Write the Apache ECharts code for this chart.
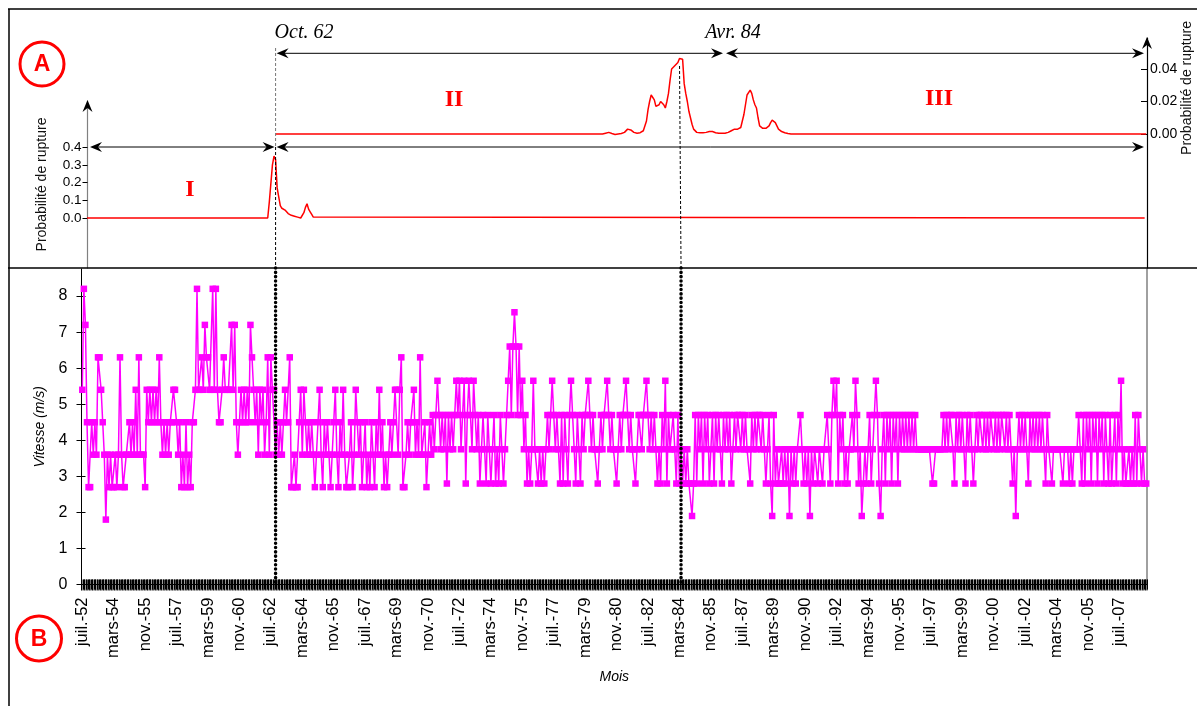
<!DOCTYPE html>
<html><head><meta charset="utf-8">
<script src="https://cdn.jsdelivr.net/npm/echarts@6/dist/echarts.min.js"></script>
<style>html,body{margin:0;padding:0;background:#fff}#c{width:1197px;height:706px}</style>
</head><body><div id="c"></div><script>
// ---------- DATA ----------
const monthNamesFr = ['janv.','févr.','mars','avr.','mai','juin','juil.','août','sept.','oct.','nov.','déc.'];
const firstMonth = [1952, 7], lastMonth = [2008, 12];
const categories = [];
for (let y = firstMonth[0], m = firstMonth[1]; y < lastMonth[0] || (y === lastMonth[0] && m <= lastMonth[1]);) {
  categories.push(y + '-' + String(m).padStart(2, '0'));
  m++; if (m > 12) { m = 1; y++; }
}
const speedTicks = [0, 1, 2, 3, 4, 5, 6, 7, 8];
const probITicks = [0, 0.1, 0.2, 0.3, 0.4];
const probIITicks = [0, 0.02, 0.04];

// Vitesse mensuelle (m/s)  juil. 1952 - sept. 1962
const vitesse1952 = [5.4, 8.2, 7.2, 4.5, 2.7, 2.7, 4.5, 3.6, 4.5, 3.6,
 6.3, 6.3, 5.4, 4.5, 3.6, 1.8, 3.6, 2.7, 3.6, 2.7,
 2.7, 3.6, 2.7, 3.6, 6.3, 3.6, 2.7, 2.7, 3.6, 3.6,
 4.5, 3.6, 4.5, 3.6, 5.4, 3.6, 6.3, 3.6, 3.6, 3.6,
 2.7, 5.4, 4.5, 5.4, 4.5, 5.4, 4.5, 5.4, 4.5, 6.3,
 4.5, 3.6, 4.5, 3.6, 4.5, 3.6, 4.5, 4.5, 5.4, 5.4,
 4.5, 3.6, 4.5, 2.7, 3.6, 2.7, 4.5, 2.7, 3.6, 2.7,
 4.5, 4.5, 5.4, 8.2, 5.4, 5.4, 6.3, 5.4, 7.2, 6.3,
 6.3, 5.4, 5.4, 8.2, 5.4, 8.2, 5.4, 4.5, 4.5, 5.4,
 6.3, 5.4, 5.4, 5.4, 5.4, 7.2, 5.4, 7.2, 4.5, 3.6,
 4.5, 5.4, 4.5, 5.4, 4.5, 5.4, 4.5, 7.2, 6.3, 5.4,
 4.5, 5.4, 3.6, 5.4, 4.5, 5.4, 3.6, 4.5, 6.3, 3.6,
 6.3, 5.4, 5.4];
// oct. 1962 - juin 1971
const vitesse1962 = [3.6, 4.5, 3.6, 4.5, 3.6, 4.5, 5.4,
 4.5, 4.5, 6.3, 2.7, 2.7, 3.6, 2.7, 2.7, 4.5, 5.4,
 3.6, 5.4, 4.5, 3.6, 4.5, 3.6, 4.5, 3.6, 2.7, 3.6,
 4.5, 5.4, 3.6, 2.7, 4.5, 3.6, 4.5, 3.6, 2.7, 3.6,
 4.5, 5.4, 3.6, 2.7, 4.5, 3.6, 5.4, 3.6, 2.7, 2.7,
 3.6, 4.5, 2.7, 3.6, 5.4, 4.5, 3.6, 4.5, 2.7, 3.6,
 4.5, 2.7, 3.6, 2.7, 4.5, 3.6, 2.7, 4.5, 3.6, 5.4,
 3.6, 4.5, 2.7, 3.6, 2.7, 3.6, 4.5, 3.6, 4.5, 5.4,
 5.4, 3.6, 5.4, 6.3, 2.7, 2.7, 3.6, 4.5, 3.6, 4.5,
 4.5, 5.4, 3.6, 4.5, 3.6, 6.3, 3.6, 3.6, 4.5, 2.7,
 3.6, 4.5, 3.6];
// juil. 1971 - avr. 1984
const vitesse1971 = [4.7, 3.75, 4.7, 5.65, 4.7, 3.75, 4.7,
 3.75, 4.7, 2.8, 4.7, 3.75, 4.7, 3.75, 4.7, 5.65, 4.7,
 5.65, 3.75, 4.7, 5.65, 2.8, 4.7, 5.65, 4.7, 3.75, 5.65,
 4.7, 3.75, 4.7, 2.8, 3.75, 4.7, 3.75, 2.8, 4.7, 3.75,
 2.8, 3.75, 4.7, 2.8, 3.75, 2.8, 4.7, 3.75, 2.8, 3.75,
 4.7, 5.65, 6.6, 4.7, 6.6, 7.55, 6.6, 4.7, 6.6, 4.7,
 5.65, 3.75, 4.7, 2.8, 3.75, 2.8, 3.75, 5.65, 3.75, 3.75,
 2.8, 3.75, 2.8, 3.75, 2.8, 3.75, 4.7, 3.75, 4.7, 5.65,
 4.7, 3.75, 4.7, 3.75, 2.8, 4.7, 2.8, 4.7, 3.75, 2.8,
 4.7, 5.65, 4.7, 3.75, 2.8, 4.7, 3.75, 2.8, 4.7, 3.75,
 4.7, 4.7, 5.65, 4.7, 3.75, 4.7, 3.75, 3.75, 2.8, 3.75,
 4.7, 3.75, 4.7, 4.7, 5.65, 4.7, 3.75, 4.7, 3.75, 3.75,
 2.8, 3.75, 4.7, 3.75, 4.7, 4.7, 5.65, 4.7, 3.75, 4.7,
 3.75, 3.75, 2.8, 3.75, 4.7, 4.7, 3.75, 4.7, 4.7, 5.65,
 4.7, 3.75, 4.7, 3.75, 4.7, 3.75, 2.8, 3.75, 2.8, 4.7,
 3.75, 5.65, 2.8, 4.7, 3.75, 3.75, 4.7, 3.75, 2.8, 4.7,
 2.8, 3.75];
// mai 1984 - déc. 1996
const vitesse1984 = [2.8, 3.75, 2.8, 3.75, 2.8, 2.8, 1.9, 2.8,
 4.7, 2.8, 4.7, 3.75, 4.7, 2.8, 4.7, 3.75, 4.7, 2.8,
 3.75, 4.7, 2.8, 4.7, 3.75, 4.7, 3.75, 2.8, 4.7, 3.75,
 4.7, 3.75, 4.7, 2.8, 3.75, 4.7, 3.75, 4.7, 4.7, 3.75,
 4.7, 3.75, 4.7, 3.75, 3.75, 2.8, 4.7, 3.75, 4.7, 3.75,
 4.7, 4.7, 3.75, 4.7, 3.75, 2.8, 3.75, 4.7, 2.8, 1.9,
 4.7, 2.8, 3.75, 2.8, 2.8, 3.75, 2.8, 3.75, 2.8, 3.75,
 1.9, 3.75, 2.8, 3.75, 2.8, 3.75, 3.75, 4.7, 3.75, 2.8,
 3.75, 2.8, 3.75, 1.9, 3.75, 2.8, 3.75, 3.75, 2.8, 3.75,
 3.75, 2.8, 3.75, 3.75, 4.7, 3.75, 2.8, 4.7, 5.65, 4.7,
 5.65, 2.8, 4.7, 3.75, 4.7, 2.8, 3.75, 2.8, 3.75, 3.75,
 4.7, 3.75, 5.65, 4.7, 2.8, 3.75, 1.9, 2.8, 3.75, 2.8,
 3.75, 4.7, 2.8, 3.75, 4.7, 5.65, 4.7, 2.8, 1.9, 3.75,
 4.7, 2.8, 4.7, 3.75, 4.7, 2.8, 4.7, 3.75, 4.7, 2.8,
 4.7, 3.75, 4.7, 3.75, 4.7, 3.75, 4.7, 3.75];
// janv. 1997 - déc. 2008
const vitesse1997 = [4.7, 3.75,
 4.7, 3.75, 3.75, 3.75, 3.75, 3.75, 3.75, 3.75, 3.75, 3.75,
 3.75, 2.8, 2.8, 3.75, 3.75, 3.75, 3.75, 3.75, 4.7, 3.75,
 4.7, 3.75, 4.7, 4.7, 3.75, 2.8, 4.7, 3.75, 4.7, 3.75,
 4.7, 3.75, 2.8, 4.7, 3.75, 4.7, 3.75, 2.8, 3.75, 4.7,
 3.75, 4.7, 4.7, 3.75, 4.7, 3.75, 4.7, 3.75, 4.7, 4.7,
 3.75, 4.7, 3.75, 4.7, 3.75, 4.7, 4.7, 3.75, 4.7, 3.75,
 4.7, 3.75, 2.8, 3.75, 1.9, 3.75, 4.7, 3.75, 4.7, 3.75,
 4.7, 3.75, 2.8, 4.7, 3.75, 4.7, 3.75, 4.7, 3.75, 4.7,
 3.75, 4.7, 3.75, 2.8, 4.7, 3.75, 3.75, 2.8, 3.75, 3.75,
 3.75, 3.75, 3.75, 3.75, 2.8, 3.75, 3.75, 3.75, 2.8, 3.75,
 2.8, 3.75, 3.75, 3.75, 4.7, 3.75, 2.8, 4.7, 2.8, 4.7,
 3.75, 4.7, 2.8, 4.7, 3.75, 4.7, 2.8, 4.7, 3.75, 4.7,
 2.8, 4.7, 3.75, 2.8, 4.7, 2.8, 3.75, 4.7, 2.8, 4.7,
 3.75, 5.65, 2.8, 3.75, 2.8, 2.8, 3.75, 2.8, 3.75, 2.8,
 4.7, 2.8, 4.7, 3.75, 2.8, 3.75, 2.8, 2.8];

// Probabilité de rupture, segment I (axe gauche)
const probIFrom = '1952-10', probITo = '2008-11';
const probIWindowStart = '1962-05';
const probIWindow = [0, 0.09, 0.10, 0.30, 0.35, 0.33, 0.17, 0.12, 0.07, 0.055,
 0.045, 0.045, 0.035, 0.025, 0.02, 0.015, 0.012, 0.01, 0.008, 0.005,
 0.002, 0, 0.01, 0.03, 0.06, 0.08, 0.05, 0.035, 0.02, 0.005, 0];
// Probabilité de rupture, segments II-III (axe droit)
const probIIFrom = '1962-10', probIITo = '2008-12';
const probIIWindowStart = '1980-02';
const probIIWindow = [0, 0.0003, 0.0005, 0.001, 0.001, 0.0007, 0.0003, 0, -0.0003, -0.0002,
 0, 0.0002, 0.0003, 0.0005, 0.001, 0.002, 0.003, 0.003, 0.0025, 0.002,
 0.001, 0.0007, 0.0005, 0.0005, 0.0008, 0.001, 0.002, 0.003, 0.008, 0.015,
 0.02, 0.024, 0.023, 0.021, 0.017, 0.016, 0.018, 0.02, 0.02, 0.018,
 0.016, 0.02, 0.025, 0.033, 0.04, 0.041, 0.042, 0.042, 0.044, 0.0465,
 0.0465, 0.046, 0.031, 0.025, 0.02, 0.014, 0.01, 0.006, 0.003, 0.002,
 0.001, 0.0008, 0.0008, 0.0008, 0.0008, 0.0008, 0.001, 0.0013, 0.0015, 0.0015,
 0.0015, 0.001, 0.0008, 0.0006, 0.0005, 0.0005, 0.0005, 0.0005, 0.0005, 0.0005,
 0.001, 0.0015, 0.002, 0.0025, 0.003, 0.003, 0.003, 0.0035, 0.004, 0.008,
 0.012, 0.018, 0.024, 0.025, 0.027, 0.025, 0.021, 0.018, 0.016, 0.01,
 0.005, 0.004, 0.0035, 0.003, 0.0035, 0.004, 0.005, 0.007, 0.0085, 0.0085,
 0.007, 0.005, 0.003, 0.002, 0.0015, 0.001, 0.0008, 0.0005, 0.0003, 0.0001, 0];
const ruptureI = '1962-10', ruptureII = '1984-04';

// ---------- BUILD ----------
const vitesse = [].concat(vitesse1952, vitesse1962, vitesse1971, vitesse1984, vitesse1997);
function windowSeries(from, to, start, vals) {
  const s = categories.indexOf(start);
  const d = [[from, 0]];
  vals.forEach((v, k) => d.push([categories[s + k], v]));
  d.push([to, 0]);
  return d;
}
const probIData = windowSeries(probIFrom, probITo, probIWindowStart, probIWindow);
const probIIData = windowSeries(probIIFrom, probIITo, probIIWindowStart, probIIWindow);

const SANS = "'Liberation Sans', Arial, sans-serif";
const SERIF = "'Liberation Serif', 'Times New Roman', serif";
const fmtMonth = v => { const p = v.split('-'); return monthNamesFr[+p[1] - 1] + '-' + p[0].slice(2); };

const chart = echarts.init(document.getElementById('c'), null, {renderer: 'canvas'});
const gridBase = {left: 81.5, width: 1065.5, outerBoundsMode: 'none', containLabel: false};
chart.setOption({
  animation: false,
  backgroundColor: '#ffffff',
  grid: [
    Object.assign({top: 269, height: 315.5}, gridBase),
    Object.assign({top: 101, height: 167}, gridBase),
    Object.assign({top: 38, height: 230}, gridBase)
  ],
  xAxis: [
    {gridIndex: 0, type: 'category', data: categories, boundaryGap: true,
     axisLine: {show: true, lineStyle: {color: '#000', width: 1}},
     axisTick: {show: true, interval: 0, length: 5, lineStyle: {color: '#000', width: 1}},
     axisLabel: {show: true, interval: 19, rotate: 90, margin: 13, fontSize: 16.5, color: '#000', fontFamily: SANS, formatter: fmtMonth, hideOverlap: false},
     splitLine: {show: false},
     name: 'Mois', nameLocation: 'middle', nameGap: 86,
     nameTextStyle: {fontStyle: 'italic', fontSize: 14, color: '#000', fontFamily: SANS}},
    {gridIndex: 0, type: 'category', data: categories, position: 'bottom', boundaryGap: true,
     axisLine: {show: false}, axisLabel: {show: false}, splitLine: {show: false},
     axisTick: {show: true, inside: true, interval: 0, length: 5, lineStyle: {color: '#000', width: 1}}},
    {gridIndex: 1, type: 'category', data: categories, show: false},
    {gridIndex: 2, type: 'category', data: categories, show: false}
  ],
  yAxis: [
    {gridIndex: 0, type: 'value', min: 0, max: 8.75, position: 'left',
     axisLine: {show: true, lineStyle: {color: '#000', width: 1}},
     axisTick: {show: true, length: 5, customValues: speedTicks, lineStyle: {color: '#000'}},
     axisLabel: {customValues: speedTicks, fontSize: 16, margin: 14, color: '#000', fontFamily: SANS},
     splitLine: {show: false},
     name: 'Vitesse (m/s)', nameLocation: 'middle', nameGap: 34, nameRotate: 90,
     nameTextStyle: {fontStyle: 'italic', fontSize: 14, color: '#000', fontFamily: SANS}},
    {gridIndex: 0, type: 'value', min: 0, max: 8.75, position: 'left',
     axisLine: {show: false}, axisLabel: {show: false}, splitLine: {show: false},
     axisTick: {show: true, inside: true, length: 4, customValues: speedTicks, lineStyle: {color: '#000'}}},
    {gridIndex: 0, type: 'value', min: 0, max: 8.75, position: 'right',
     axisLine: {show: true, lineStyle: {color: '#808080', width: 1.5}},
     axisTick: {show: false}, axisLabel: {show: false}, splitLine: {show: false}},
    {gridIndex: 1, type: 'value', min: -0.2825, max: 0.661, position: 'left', offset: -6,
     axisLine: {show: true, lineStyle: {color: '#808080', width: 1.2}},
     axisTick: {show: true, length: 5, customValues: probITicks, lineStyle: {color: '#000'}},
     axisLabel: {customValues: probITicks, fontSize: 13.5, margin: 6, color: '#000', fontFamily: SANS, formatter: v => v.toFixed(1)},
     splitLine: {show: false},
     name: 'Probabilité de rupture', nameLocation: 'middle', nameGap: 38, nameRotate: 90,
     nameTextStyle: {fontSize: 14, color: '#111', fontFamily: SANS}},
    {gridIndex: 2, type: 'value', min: -0.08246, max: 0.05908, position: 'right',
     axisLine: {show: true, lineStyle: {color: '#000', width: 1.2}},
     axisTick: {show: true, inside: true, length: 6, customValues: probIITicks, lineStyle: {color: '#000'}},
     axisLabel: {customValues: probIITicks, fontSize: 14, margin: 3, color: '#000', fontFamily: SANS, formatter: v => v.toFixed(2)},
     splitLine: {show: false}}
  ],
  series: [
    {type: 'line', xAxisIndex: 0, yAxisIndex: 0, data: vitesse,
     symbol: 'rect', symbolSize: 6.5, showAllSymbol: true,
     lineStyle: {color: '#ff00ff', width: 1.5}, itemStyle: {color: '#ff00ff', borderWidth: 0}, z: 3},
    {type: 'line', xAxisIndex: 2, yAxisIndex: 3, data: probIData, showSymbol: false,
     lineStyle: {color: '#ff0000', width: 1.5}, itemStyle: {color: '#ff0000'}},
    {type: 'line', xAxisIndex: 3, yAxisIndex: 4, data: probIIData, showSymbol: false,
     lineStyle: {color: '#ff0000', width: 1.5}, itemStyle: {color: '#ff0000'}}
  ]
});

// ---------- ANNOTATIONS ----------
const xOct = chart.convertToPixel({xAxisIndex: 0}, categories.indexOf(ruptureI));
const xAvr = chart.convertToPixel({xAxisIndex: 0}, categories.indexOf(ruptureII));
const yUp = 53.3, yLow = 147;
const els = [];
function line(x1, y1, x2, y2, stroke, w, dash) {
  els.push({type: 'line', z: 100, shape: {x1, y1, x2, y2},
    style: {stroke: stroke || '#000', lineWidth: w || 1, lineDash: dash || null, lineCap: dash && dash[0] < 0.5 ? 'round' : 'butt'}});
}
function head(tx, ty, dx, dy) {
  const nx = -dy, ny = dx;
  els.push({type: 'polygon', z: 101, shape: {points: [[tx, ty], [tx - 12 * dx + 5 * nx, ty - 12 * dy + 5 * ny], [tx - 8 * dx, ty - 8 * dy], [tx - 12 * dx - 5 * nx, ty - 12 * dy - 5 * ny]]},
    style: {fill: '#000'}});
}
function arrow2(xa, xb, y) { line(xa + 4, y, xb - 4, y); head(xa, y, -1, 0); head(xb, y, 1, 0); }
function text(x, y, t, font, fill, rot) {
  els.push({type: 'text', z: 102, x, y, rotation: rot || 0,
    style: {text: t, font, fill, align: 'center', verticalAlign: 'middle', textAlign: 'center', textVerticalAlign: 'middle'}});
}
// month ticks across the speed axis (one per month, crossing the axis line)
const y0 = chart.convertToPixel({yAxisIndex: 0}, 0);
for (let k = 0; k <= categories.length; k++) {
  const xb = chart.convertToPixel({xAxisIndex: 0}, k) - (chart.convertToPixel({xAxisIndex: 0}, 1) - chart.convertToPixel({xAxisIndex: 0}, 0)) / 2;
  els.push({type: 'line', z: 50, shape: {x1: xb, y1: y0 - 5, x2: xb, y2: y0 + 6}, style: {stroke: '#000', lineWidth: 1}});
}
// frame
line(8, 9, 1197, 9, '#000', 1.5);
line(9, 9, 9, 706, '#000', 1.5);
line(8, 268, 1197, 268, '#000', 1.5);
// vertical markers
line(xOct, 48, xOct, yLow, '#777', 1, [3, 2]);
line(xOct, yLow, xOct, 268, '#000', 1, [3, 2]);
line(xAvr - 1.5, 66, xAvr, 268, '#000', 1, [3, 2]);
line(xOct, 268, xOct, 584, '#000', 3.5, [0.1, 4.2]);
line(xAvr, 268, xAvr, 584, '#000', 3.5, [0.1, 4.2]);
// period arrows
arrow2(xOct + 1, 723, yUp);
arrow2(726, 1144, yUp);
arrow2(90, xOct - 1, yLow);
arrow2(xOct + 1, 1144, yLow);
// axis arrowheads
head(87.5, 100, 0, -1);
head(1147, 37, 0, -1);
// labels
text(304, 33, 'Oct. 62', 'italic 20px ' + SERIF, '#000');
text(733, 33, 'Avr. 84', 'italic 20px ' + SERIF, '#000');
text(190, 190, 'I', 'bold 24px ' + SERIF, '#ff0000');
text(454, 100, 'II', 'bold 24px ' + SERIF, '#ff0000');
text(939, 99, 'III', 'bold 24px ' + SERIF, '#ff0000');
text(1187, 88, 'Probabilité de rupture', '14px ' + SANS, '#111', Math.PI / 2);
// circled letters
els.push({type: 'circle', z: 100, shape: {cx: 42, cy: 64, r: 22}, style: {fill: 'none', stroke: '#ff0000', lineWidth: 3}});
text(42, 65, 'A', 'bold 23px ' + SANS, '#ff0000');
els.push({type: 'circle', z: 100, shape: {cx: 39, cy: 638.5, r: 22.5}, style: {fill: 'none', stroke: '#ff0000', lineWidth: 3}});
text(39, 639.5, 'B', 'bold 23px ' + SANS, '#ff0000');
chart.setOption({graphic: {elements: els}});
</script></body></html>
